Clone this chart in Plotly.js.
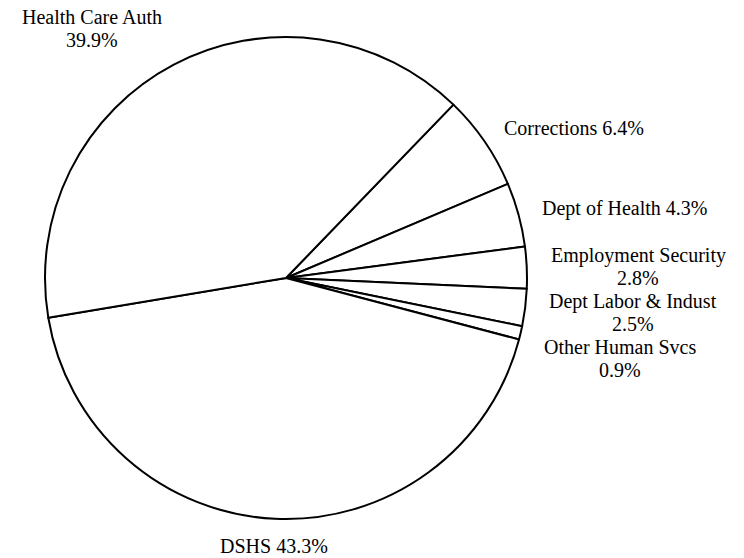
<!DOCTYPE html>
<html><head><meta charset="utf-8">
<script src="https://cdn.plot.ly/plotly-3.0.1.min.js"></script>
<style>html,body{margin:0;padding:0;background:#fff}</style>
</head><body>
<div id="chart" style="width:744px;height:558px"></div>
<script>
// ---- data ----
const labels = ["Corrections", "Dept of Health", "Employment Security", "Dept Labor & Indust", "Other Human Svcs", "DSHS", "Health Care Auth"];
const values = [6.4, 4.3, 2.8, 2.5, 0.9, 43.3, 39.9];
const wrapLabel = [false, false, true, true, true, false, true];

// ---- layout settings ----
const W = 744, H = 558;
const margin = {l: 45, r: 217, t: 37, b: 39};
const rotation = 44;
const fontFamily = "Liberation Serif, Times New Roman, serif";
const fontSize = 20;
const lineH = 23;
const gapY = 3.5;      // vertical gap for labels above / below the pie
const labelR = 1.1;    // label distance as a fraction of the pie radius

const plotW = W - margin.l - margin.r, plotH = H - margin.t - margin.b;
const radius = Math.min(plotW, plotH) / 2;
const cx = margin.l + plotW / 2, cy = margin.t + plotH / 2;

const canvas = document.createElement("canvas");
const ctx = canvas.getContext("2d");
ctx.font = fontSize + "px 'Liberation Serif'";

const total = values.reduce((a, b) => a + b, 0);
let cum = 0;
const items = labels.map((name, i) => {
  const mid = (cum + values[i] / 2) / total; cum += values[i];
  const a = (90 - (rotation + mid * 360)) * Math.PI / 180;
  const cos = Math.cos(a), sin = Math.sin(a);
  const pct = values[i].toFixed(1) + "%";
  const lines = wrapLabel[i] ? [name, pct] : [name + " " + pct];
  const bw = Math.max(...lines.map(s => ctx.measureText(s).width));
  const px = cx + labelR * radius * cos, py = cy - labelR * radius * sin;
  const bh = lines.length * lineH;
  let first;
  if (sin > 0.7) first = py - gapY - (lines.length - 1) * lineH;   // above the pie
  else if (sin < -0.7) first = py + gapY;                          // below the pie
  else first = py - (lines.length - 1) * lineH / 2;                // beside the pie
  const top = first - lineH / 2;
  const dx = cos > 0.2 ? bw / 2 : (cos < -0.2 ? -bw / 2 : 0);
  return {lines, cos, sin, px, py, top, bh, dx};
});

// stack right-side labels so they do not overlap
const right = items.filter(it => it.cos > 0.2 && Math.abs(it.sin) <= 0.7).sort((a, b) => a.top - b.top);
let prevBottom = -Infinity;
right.forEach(it => { if (it.top < prevBottom) it.top = prevBottom; prevBottom = it.top + it.bh; });

const annotations = [];
items.forEach(it => {
  it.lines.forEach((s, j) => {
    const lineCenter = it.top + lineH * (j + 0.5);
    annotations.push({
      xref: "paper", yref: "paper",
      x: 0.5 + labelR * 0.5 * it.cos, y: 0.5 + labelR * 0.5 * it.sin,
      xanchor: "center", yanchor: "middle",
      xshift: it.dx, yshift: it.py - lineCenter,
      text: s, showarrow: false,
      font: {family: fontFamily, size: fontSize, color: "#000"}
    });
  });
});

Plotly.newPlot("chart", [{
  type: "pie",
  labels: labels,
  values: values,
  textinfo: "none",
  sort: false,
  direction: "clockwise",
  rotation: rotation,
  marker: {colors: labels.map(() => "#ffffff"), line: {color: "#000000", width: 2}},
  hoverinfo: "none",
  automargin: false
}], {
  width: W, height: H,
  margin: margin,
  showlegend: false,
  paper_bgcolor: "#fff",
  font: {family: fontFamily, size: fontSize, color: "#000"},
  annotations: annotations
}, {displayModeBar: false, staticPlot: true});
</script>
</body></html>
